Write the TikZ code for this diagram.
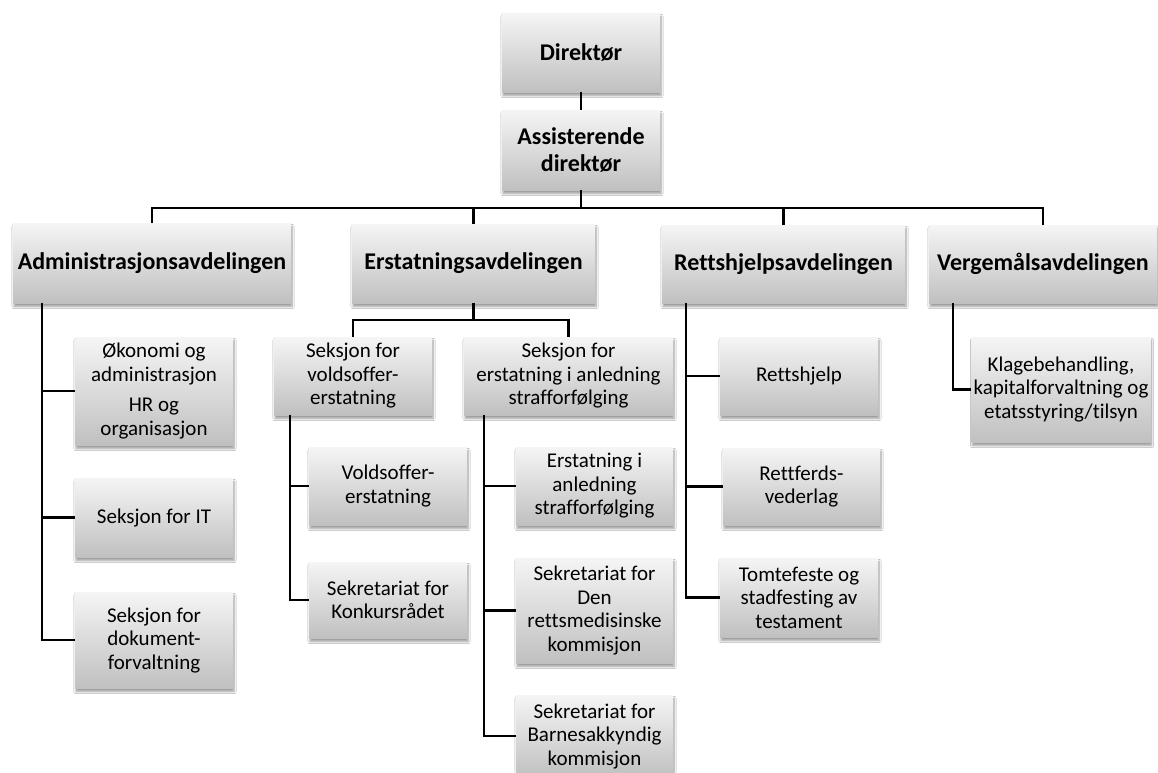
\documentclass[tikz,border=0pt]{standalone}
\usepackage{fontspec}
\setmainfont{Carlito}[Ligatures=NoCommon]
\usetikzlibrary{shadows.blur}
\definecolor{boxtop}{HTML}{F5F5F5}
\definecolor{boxbot}{HTML}{C0C0C0}
\tikzset{
  orgbox/.style={rectangle, inner sep=2pt, align=center,
    top color=boxtop, bottom color=boxbot, draw=none,
    blur shadow={shadow xshift=1pt, shadow yshift=-3.5pt, shadow blur steps=6, shadow blur radius=2.2pt, shadow opacity=40},
    font=\fontsize{21}{23.5}\selectfont},
  headbox/.style={orgbox, font=\fontsize{24}{27.5}\selectfont\bfseries},
  conn/.style={draw=black, line width=2.2pt}
}
% box from left,top,right,bottom
\newcommand{\obox}[7][orgbox]{%
  \node[#1, minimum width={(#5)-(#3)}, minimum height={(#6)-(#4)}, anchor=center]
    (#2) at ({((#3)+(#5))/2},{((#4)+(#6))/2}) {#7};}
\begin{document}
\begin{tikzpicture}[x=1pt,y=-1pt]
\useasboundingbox (0,0) rectangle (1158,772);
\fill[white] (0,0) rectangle (1158,772);
\clip (0,0) rectangle (1158,772);

\coordinate (bus) at (0,208);
\coordinate (ebus) at (0,320);
\coordinate (av) at (42,303);
\coordinate (sv1) at (290,415);
\coordinate (sv2) at (484,415);
\coordinate (rv) at (686,303);
\coordinate (vv) at (953,303);

% boxes
\obox[headbox]{dir}{502}{13}{660}{92}{Direktør}
\obox[headbox]{ast}{502}{110}{660}{190}{Assisterende\\direktør}
\obox[headbox]{adm}{13}{223}{291}{303}{Administrasjonsavdelingen}
\obox[headbox]{ers}{352}{224}{595}{303}{Erstatningsavdelingen}
\obox[headbox]{ret}{662}{225}{905}{303}{Rettshjelpsavdelingen}
\obox[headbox]{ver}{929}{225}{1157}{303}{Vergemålsavdelingen}

\obox{a1}{75}{337}{233}{445}{Økonomi og\\administrasjon\\[7pt]HR og\\organisasjon}
\obox{a2}{75}{478}{233}{557}{Seksjon for IT}
\obox{a3}{75}{592}{233}{688}{Seksjon for\\dokument-\\forvaltning}

\obox{s1}{274}{337}{432}{415}{Seksjon for\\voldsoffer-\\erstatning}
\obox{s2}{464}{337}{673}{415}{Seksjon for\\erstatning i anledning\\strafforfølging}
\obox{v1}{309}{447}{467}{525}{Voldsoffer-\\erstatning}
\obox{v2}{309}{562}{467}{638}{Sekretariat for\\Konkursrådet}
\obox{e1}{516}{447}{673}{525}{Erstatning i\\anledning\\strafforfølging}
\obox{e2}{516}{558}{673}{663}{Sekretariat for\\Den\\rettsmedisinske\\kommisjon}
\obox{e3}{516}{695}{673}{777}{Sekretariat for\\Barnesakkyndig\\kommisjon}

\obox{r1}{720}{337}{878}{415}{Rettshjelp}
\obox{r2}{723}{448}{880}{525}{Rettferds-\\vederlag}
\obox{r3}{720}{558}{878}{637}{Tomtefeste og\\stadfesting av\\testament}

\obox{k1}{972}{337}{1150}{442}{Klagebehandling,\\kapitalforvaltning og\\etatsstyring/tilsyn}

% connectors
\draw[conn] (dir.south) -- (ast.north);
\draw[conn] (ast.south) -- (ast.south |- bus);
\draw[conn] (adm.north) -- (adm.north |- bus) -- (ver.north |- bus) -- (ver.north);
\draw[conn] (ers.north |- bus) -- (ers.north);
\draw[conn] (ret.north |- bus) -- (ret.north);

\draw[conn] (av) |- (a3.west);
\draw[conn] (av |- a1.west) -- (a1.west);
\draw[conn] (av |- a2.west) -- (a2.west);

\draw[conn] (ers.south) -- (ers.south |- ebus);
\draw[conn] (s1.north) -- (s1.north |- ebus) -- (s2.north |- ebus) -- (s2.north);

\draw[conn] (sv1) |- (v2.west);
\draw[conn] (sv1 |- v1.west) -- (v1.west);
\draw[conn] (sv2) |- (e3.west);
\draw[conn] (sv2 |- e1.west) -- (e1.west);
\draw[conn] (sv2 |- e2.west) -- (e2.west);

\draw[conn] (rv) |- (r3.west);
\draw[conn] (rv |- r1.west) -- (r1.west);
\draw[conn] (rv |- r2.west) -- (r2.west);

\draw[conn] (vv) |- (k1.west);
\end{tikzpicture}
\end{document}
